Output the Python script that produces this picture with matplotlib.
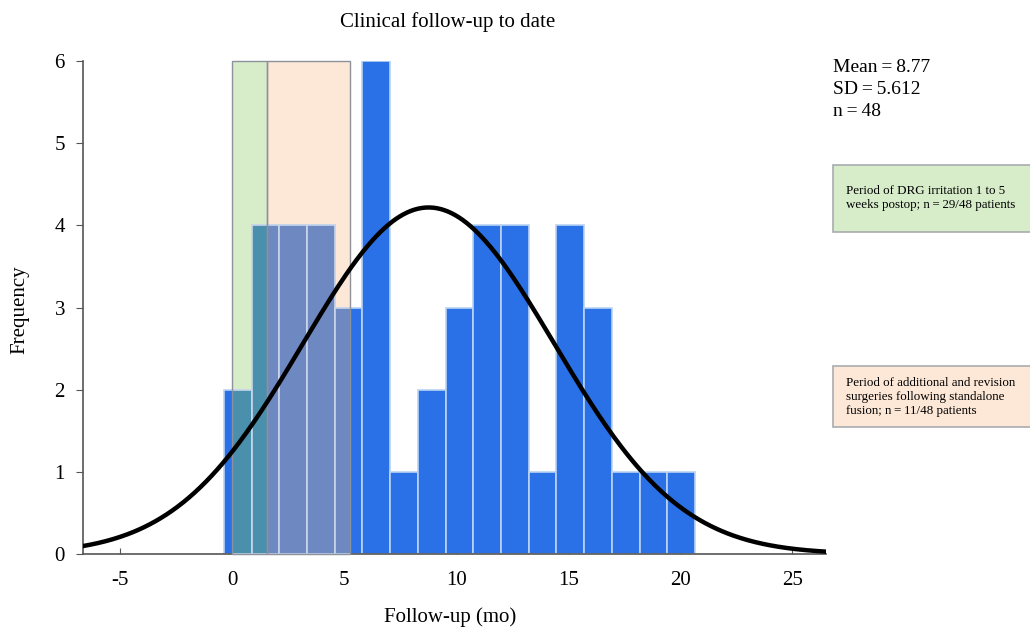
import numpy as np
import matplotlib
matplotlib.use('Agg')
import matplotlib.pyplot as plt
from matplotlib.patches import Rectangle

plt.rcParams['font.family'] = ['Liberation Serif', 'DejaVu Serif']
plt.rcParams['axes.unicode_minus'] = False

# histogram counts per bin, 48 patients
counts = [2, 4, 4, 4, 3, 6, 1, 2, 3, 4, 4, 1, 4, 3, 1, 1, 1]
bin_start = -0.36
bin_width = 1.236
mean_fu = 8.77
sd_fu = 5.612
n_pat = 48

# shaded periods (months)
drg_period = (0.0, 1.58)
revision_period = (1.58, 5.28)

stats_lines = ['Mean\u2009=\u20098.77', 'SD\u2009=\u20095.612', 'n\u2009=\u200948']
drg_text = 'Period of DRG irritation 1 to 5\nweeks postop; n\u2009=\u200929/48 patients'
rev_text = ('Period of additional and revision\nsurgeries following standalone\n'
            'fusion; n\u2009=\u200911/48 patients')

blue = '#2a70e6'
edge = '#b9d3f3'

fig = plt.figure(figsize=(10.3, 6.27), dpi=100)
ax = fig.add_axes([83 / 1030, 1 - 554 / 627, (826 - 83) / 1030, (554 - 61) / 627])

lefts = bin_start + bin_width * np.arange(len(counts))
ax.bar(lefts, counts, width=bin_width, align='edge', color=blue,
       edgecolor=edge, linewidth=1.2, zorder=2)

# the shaded periods, light fill behind and tinted bars inside them
periods = [(drg_period, '#d7edca', '#4a8fab'), (revision_period, '#fde8d7', '#6e88c2')]
for (x0, x1), light, tint in periods:
    ax.add_patch(Rectangle((x0, 0), x1 - x0, 6, facecolor=light, edgecolor='none', zorder=1))
    clip = Rectangle((x0, 0), x1 - x0, 6, transform=ax.transData, fill=False)
    bars = ax.bar(lefts, counts, width=bin_width, align='edge', color=tint,
                  edgecolor='#c9d6ea', linewidth=1.2, zorder=3)
    for b in bars:
        b.set_clip_path(clip)
    ax.add_patch(Rectangle((x0, 0), x1 - x0, 6, fill=False, edgecolor='#8c919c',
                           linewidth=1.0, zorder=4, clip_on=False))

# fitted normal curve
xs = np.linspace(-6.65, 26.5, 400)
ys = n_pat * bin_width / (sd_fu * np.sqrt(2 * np.pi)) * np.exp(-0.5 * ((xs - mean_fu) / sd_fu) ** 2)
ax.plot(xs, ys, color='black', linewidth=3.2, zorder=5, solid_capstyle='round')

ax.set_xlim(-6.65, 26.5)
ax.set_ylim(0, 6)
ax.set_xticks([-5, 0, 5, 10, 15, 20, 25])
ax.set_yticks(range(7))
for s in ['top', 'right']:
    ax.spines[s].set_visible(False)
for s in ['left', 'bottom']:
    ax.spines[s].set_color('#555555')
    ax.spines[s].set_linewidth(1.2)
ax.tick_params(axis='x', direction='in', length=4, color='#555555', labelsize=15, pad=12)
ax.tick_params(axis='y', direction='out', length=5, color='#555555', labelsize=15, pad=8)

fig.text(448 / 1030, 1 - 22 / 627, 'Clinical follow-up to date', ha='center', va='center', fontsize=15)
fig.text(450 / 1030, 1 - 617 / 627, 'Follow-up (mo)', ha='center', va='center', fontsize=15)
fig.text(20 / 1030, 1 - 310 / 627, 'Frequency', ha='center', va='center', rotation=90, fontsize=15)

for i, line in enumerate(stats_lines):
    fig.text(833 / 1030, 1 - (68 + i * 21.5) / 627, line, ha='left', va='center', fontsize=14)

# note boxes on the right
fig.add_artist(Rectangle((833 / 1030, 1 - 232 / 627), 200 / 1030, 67 / 627,
                         transform=fig.transFigure, facecolor='#d7edca',
                         edgecolor='#a9abb0', linewidth=1.2))
fig.text(846 / 1030, 1 - 198 / 627, drg_text, ha='left', va='center', fontsize=9.4, linespacing=1.3)
fig.add_artist(Rectangle((833 / 1030, 1 - 427 / 627), 200 / 1030, 61 / 627,
                         transform=fig.transFigure, facecolor='#fde8d7',
                         edgecolor='#a9abb0', linewidth=1.2))
fig.text(846 / 1030, 1 - 397 / 627, rev_text, ha='left', va='center', fontsize=9.4, linespacing=1.25)

fig.savefig('out.png', dpi=100)
